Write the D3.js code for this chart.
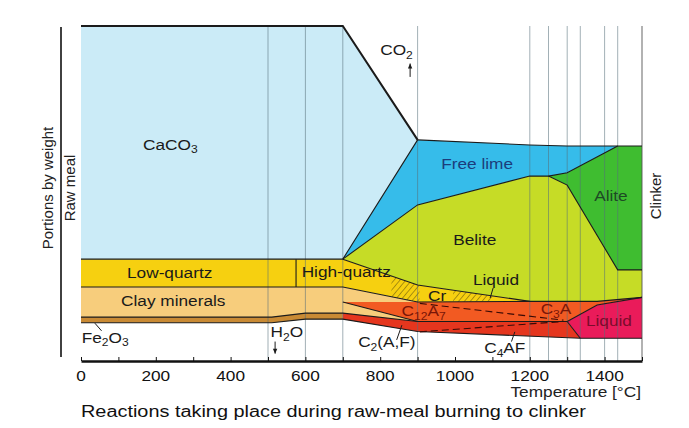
<!DOCTYPE html>
<html>
<head>
<meta charset="utf-8">
<script src="https://cdn.jsdelivr.net/npm/d3@7"></script>
<style>
body { margin: 0; background: #fff; }
text { font-family: "Liberation Sans", Arial, Helvetica, sans-serif; }
</style>
</head>
<body>
<script>
var width = 689, height = 428;

// temperature axis
var tempTicks = [0, 100, 200, 300, 400, 500, 600, 700, 800, 900, 1000, 1100, 1200, 1300, 1400, 1500];
var isotherms = [500, 600, 700, 900, 1200, 1250, 1300, 1335, 1400, 1435, 1500];

// phase areas, [temperature, portion by weight]
var caco3 = [[0,100],[700,100],[900,66],[700,30.4],[0,30.4]];
var freeLime = [[700,30.4],[900,66],[1200,64.5],[1300,64.2],[1435,64.2],[1300,56.2],[1250,55.2],[1200,55.2],[900,46.6]];
var alite = [[1250,55.2],[1300,56.2],[1435,64.2],[1500,64.2],[1500,27.2],[1435,27.2],[1300,52.5]];
var belite = [[700,30.4],[900,46.6],[1200,55.2],[1250,55.2],[1300,52.5],[1435,27.2],[1500,27.2],[1500,19.0],[1380,17.8],[1200,17.8],[900,22.7]];
var quartz = [[0,30.4],[700,30.4],[900,22.7],[1200,17.8],[900,17.6],[700,22.1],[0,22.1]];
var clay = [[0,22.1],[700,22.1],[900,17.6],[900,11.8],[700,14.3],[600,14.3],[510,13.1],[0,13.1]];
var ironOxide = [[0,13.1],[510,13.1],[600,14.3],[700,14.3],[700,12.5],[600,12.5],[510,11.4],[0,11.4]];
var aluminate = [[700,17.6],[900,17.6],[1200,17.8],[1380,17.8],[1500,19.0],[1380,16.7],[1300,11.8],[900,11.8]];
var ferrite = [[700,14.3],[900,11.8],[1300,11.8],[1335,6.8],[900,8.8],[700,12.5]];
var melt = [[1300,11.8],[1380,16.7],[1500,19.0],[1500,6.8],[1335,6.8]];

// boundary lines
var edges = [
  [[900,66],[1200,64.5],[1300,64.2],[1500,64.2]],
  [[0,30.4],[700,30.4],[900,66]],
  [[700,30.4],[900,46.6],[1200,55.2],[1250,55.2],[1300,56.2],[1435,64.2]],
  [[1250,55.2],[1300,52.5],[1435,27.2],[1500,27.2]],
  [[700,30.4],[900,22.7],[1200,17.8],[1380,17.8],[1500,19.0]],
  [[0,22.1],[700,22.1],[900,17.6],[1200,17.8]],
  [[575,30.4],[575,22.1]],
  [[0,13.1],[510,13.1],[600,14.3],[700,14.3],[900,11.8],[1300,11.8]],
  [[0,11.4],[510,11.4],[600,12.5],[700,12.5],[900,8.8],[1335,6.8],[1500,6.8]],
  [[700,17.6],[900,11.8]],
  [[1300,11.8],[1380,16.7],[1500,19.0]],
  [[1300,11.8],[1335,6.8]]
];
var topEdge = [[0,100],[700,100],[900,66]];
var dashes = [
  [[906,17.2],[1290,12.2]],
  [[906,8.7],[1290,11.8]]
];
var hatchSpans = [[830, 905], [995, 1100]];

// labels: parts starting with "_" are subscripts
var labels = [
  {parts: ["CaCO", "_3"], t: 166, v: 63.0, color: "#1a1a1a"},
  {parts: ["CO", "_2"], t: 800, v: 91.3, color: "#1a1a1a"},
  {parts: ["Free lime"], t: 963, v: 57.3, color: "#1c3c7c"},
  {parts: ["Alite"], t: 1372, v: 47.8, color: "#1d4a24"},
  {parts: ["Belite"], t: 995, v: 34.6, color: "#1a1a1a"},
  {parts: ["Low-quartz"], t: 123, v: 24.8, color: "#1a1a1a"},
  {parts: ["High-quartz"], t: 590, v: 25.0, color: "#1a1a1a"},
  {parts: ["Clay minerals"], t: 107, v: 16.4, color: "#1a1a1a"},
  {parts: ["Liquid"], t: 1048, v: 22.7, color: "#1a1a1a"},
  {parts: ["Cr"], t: 928, v: 17.9, color: "#1a1a1a"},
  {parts: ["C", "_12", "A", "_7"], t: 857, v: 13.3, color: "#7a1608"},
  {parts: ["C", "_3", "A"], t: 1229, v: 13.9, color: "#7a1608"},
  {parts: ["Liquid"], t: 1350, v: 10.5, color: "#7a0c2c"},
  {parts: ["Fe", "_2", "O", "_3"], t: 2, v: 5.4, color: "#1a1a1a"},
  {parts: ["H", "_2", "O"], t: 507, v: 7.1, color: "#1a1a1a"},
  {parts: ["C", "_2", "(A,F)"], t: 741, v: 4.1, color: "#1a1a1a"},
  {parts: ["C", "_4", "AF"], t: 1078, v: 2.3, color: "#1a1a1a"}
];
var leaders = [
  [[37,11.3],[55,9.0]],
  [[1102,21.8],[1094,18.8]],
  [[844,6.3],[858,10.7]],
  [[1151,5.8],[1160,8.7]]
];
var arrows = [
  {t: 880, v0: 84.8, v1: 88.8},
  {t: 519, v0: 5.8, v1: 2.2}
];

var x = d3.scaleLinear().domain([0, 1500]).range([81, 642]);
var y = d3.scaleLinear().domain([0, 100]).range([361, 26]);
var stretch = 1.15;

var svg = d3.select("body").append("svg")
  .attr("width", width)
  .attr("height", height);

var defs = svg.append("defs");
defs.append("pattern")
  .attr("id", "hatch")
  .attr("patternUnits", "userSpaceOnUse")
  .attr("width", 4.5)
  .attr("height", 4.5)
  .attr("patternTransform", "rotate(40)")
  .append("line")
  .attr("x1", 0).attr("y1", 0).attr("x2", 0).attr("y2", 4.5)
  .attr("stroke", "#5e4e0c")
  .attr("stroke-width", 1);

var poly = d3.line().x(function(d) { return x(d[0]); }).y(function(d) { return y(d[1]); });

var areas = [
  {d: caco3, fill: "#cbebf7"},
  {d: freeLime, fill: "#36bcea"},
  {d: alite, fill: "#3fbd30"},
  {d: belite, fill: "#c6dc26"},
  {d: quartz, fill: "#f6d010"},
  {d: clay, fill: "#f7cd7c"},
  {d: ironOxide, fill: "#c98a34"},
  {d: aluminate, fill: "#f25a22"},
  {d: ferrite, fill: "#e5361e"},
  {d: melt, fill: "#ea1b5a"}
];

svg.append("g")
  .selectAll("path")
  .data(areas)
  .enter().append("path")
  .attr("d", function(d) { return poly(d.d) + "Z"; })
  .attr("fill", function(d) { return d.fill; });

// liquid hatching inside the quartz band
defs.append("clipPath").attr("id", "quartzClip")
  .append("path").attr("d", poly(quartz) + "Z");
svg.append("g")
  .attr("clip-path", "url(#quartzClip)")
  .selectAll("rect")
  .data(hatchSpans)
  .enter().append("rect")
  .attr("x", function(d) { return x(d[0]); })
  .attr("width", function(d) { return x(d[1]) - x(d[0]); })
  .attr("y", y(31))
  .attr("height", y(10) - y(31))
  .attr("fill", "url(#hatch)");

// isotherms
svg.append("g")
  .selectAll("line")
  .data(isotherms)
  .enter().append("line")
  .attr("x1", function(d) { return x(d); })
  .attr("x2", function(d) { return x(d); })
  .attr("y1", y(100))
  .attr("y2", y(0))
  .attr("stroke", function(d) { return d === 1500 ? "#555" : "#56707a"; })
  .attr("stroke-opacity", function(d) { return d === 1500 ? 0.9 : 0.55; })
  .attr("stroke-width", 1);

svg.append("g")
  .selectAll("path")
  .data(edges)
  .enter().append("path")
  .attr("d", poly)
  .attr("fill", "none")
  .attr("stroke", "#1b1b1b")
  .attr("stroke-width", 1.1);

svg.append("path")
  .attr("d", poly(topEdge))
  .attr("fill", "none")
  .attr("stroke", "#1b1b1b")
  .attr("stroke-width", 2);

svg.append("g")
  .selectAll("path")
  .data(dashes)
  .enter().append("path")
  .attr("d", poly)
  .attr("fill", "none")
  .attr("stroke", "#3a0a05")
  .attr("stroke-width", 1.1)
  .attr("stroke-dasharray", "7,4");

svg.append("g")
  .selectAll("path")
  .data(leaders)
  .enter().append("path")
  .attr("d", poly)
  .attr("fill", "none")
  .attr("stroke", "#1b1b1b")
  .attr("stroke-width", 1);

// CO2 / H2O arrows
arrows.forEach(function(a) {
  var dir = a.v1 > a.v0 ? 1 : -1;
  svg.append("line")
    .attr("x1", x(a.t)).attr("x2", x(a.t))
    .attr("y1", y(a.v0)).attr("y2", y(a.v1))
    .attr("stroke", "#1b1b1b").attr("stroke-width", 1);
  var tipY = y(a.v1);
  svg.append("path")
    .attr("d", "M" + (x(a.t) - 2.2) + "," + (tipY + dir * 5) + "L" + x(a.t) + "," + tipY + "L" + (x(a.t) + 2.2) + "," + (tipY + dir * 5) + "Z")
    .attr("fill", "#1b1b1b");
});

function addText(g, parts, px, py, size, color, anchor) {
  var t = g.append("text")
    .attr("transform", "translate(" + px + "," + py + ") scale(" + stretch + ",1)")
    .attr("font-size", size)
    .attr("fill", color)
    .attr("text-anchor", anchor || "start");
  var shifted = false;
  parts.forEach(function(p) {
    var sub = p.charAt(0) === "_";
    var dy = sub && !shifted ? 3.5 : (!sub && shifted ? -3.5 : 0);
    shifted = sub;
    t.append("tspan")
      .attr("dy", dy)
      .attr("font-size", sub ? size * 0.7 : size)
      .text(sub ? p.slice(1) : p);
  });
  return t;
}

var labelG = svg.append("g");
labels.forEach(function(l) {
  addText(labelG, l.parts, x(l.t), y(l.v), 15, l.color);
});

// axis
var axis = d3.axisBottom(x)
  .tickValues(tempTicks)
  .tickSizeInner(-4)
  .tickSizeOuter(0)
  .tickPadding(8)
  .tickFormat(function(d) { return d % 200 === 0 && d < 1500 ? d : ""; });

var axisG = svg.append("g")
  .attr("transform", "translate(0," + y(0) + ")")
  .call(axis);
axisG.select(".domain").attr("stroke-width", 2.4).attr("stroke", "#111");
axisG.selectAll(".tick line").attr("stroke", "#111").attr("stroke-width", 1);
axisG.selectAll(".tick text").remove();
tempTicks.filter(function(d) { return d % 200 === 0 && d < 1500; }).forEach(function(d) {
  addText(axisG, [String(d)], x(d), 20, 15, "#111", "middle");
});

addText(svg, ["Temperature [°C]"], 641, 396.5, 15, "#222", "end");
addText(svg, ["Reactions taking place during raw-meal burning to clinker"], 81, 417, 17.3, "#111");

// left frame and side captions
svg.append("line")
  .attr("x1", 61).attr("x2", 61)
  .attr("y1", 27).attr("y2", 357)
  .attr("stroke", "#111").attr("stroke-width", 1.6);

svg.append("text")
  .attr("transform", "translate(53,188) rotate(-90)")
  .attr("text-anchor", "middle")
  .attr("font-size", 15)
  .attr("fill", "#222")
  .text("Portions by weight");
svg.append("text")
  .attr("transform", "translate(75,188) rotate(-90)")
  .attr("text-anchor", "middle")
  .attr("font-size", 15)
  .attr("fill", "#222")
  .text("Raw meal");
svg.append("text")
  .attr("transform", "translate(661,196) rotate(-90)")
  .attr("text-anchor", "middle")
  .attr("font-size", 15)
  .attr("fill", "#222")
  .text("Clinker");
</script>
</body>
</html>
